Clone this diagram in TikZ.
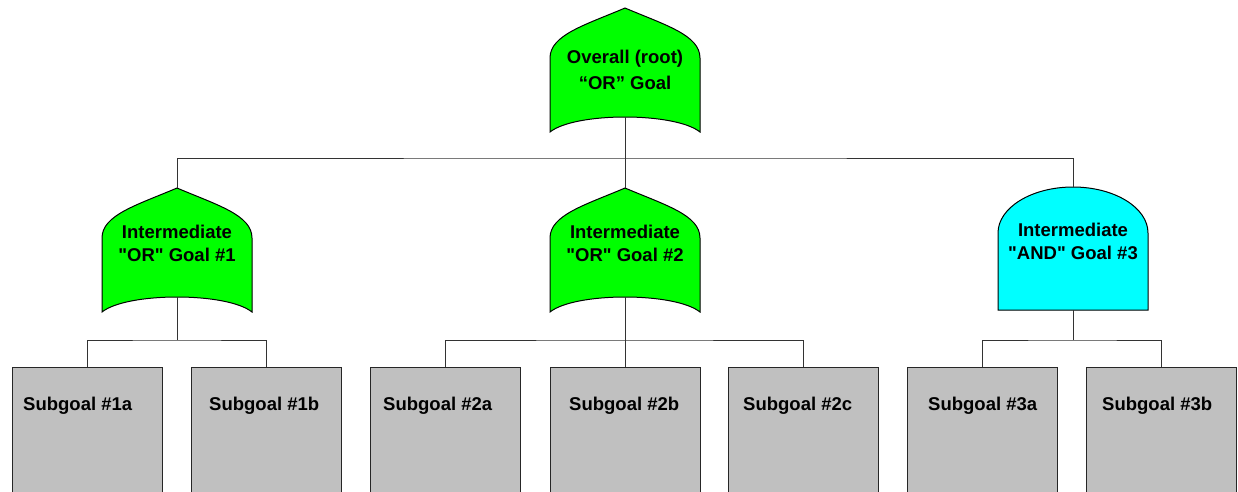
\documentclass[tikz,border=0pt]{standalone}
\usepackage{fontspec}
% a family without the TeX quote mapping, so straight quotes stay straight
\newfontfamily\labelfont{Liberation Sans}
\definecolor{orgreen}{RGB}{0,255,0}
\definecolor{andcyan}{RGB}{0,255,255}
\definecolor{leafgray}{RGB}{192,192,192}
\tikzset{
  wire/.style={draw=black!80, line width=1pt},
  outline/.style={draw=black, line width=1pt},
  gatetext/.style={font=\labelfont\bfseries\fontsize{18.5}{23.4}\selectfont, align=center, inner sep=0pt},
  leaftext/.style={font=\labelfont\bfseries\fontsize{18.5}{22}\selectfont, inner sep=0pt, anchor=base west},
  leafbox/.style={outline, draw=black!85, fill=leafgray, minimum width=150pt, minimum height=140pt, anchor=north, inner sep=0pt},
  % pointed-arch "OR" gate, origin at the apex
  orgoal/.pic={
    \path[outline, fill=orgreen] (-75,50) .. controls (-75,27) and (-40,17) .. (0,0)
      .. controls (40,17) and (75,27) .. (75,50) -- (75,124)
      .. controls (50,104) and (-50,104) .. (-75,124) -- cycle;
    \coordinate (-top) at (0,0);
    \coordinate (-bot) at (0,109);
  },
  % round-topped "AND" gate, origin at the top of the dome
  andgoal/.pic={
    \path[outline, fill=andcyan] (-75,123) -- (-75,46)
      .. controls (-75,20.6) and (-41.4,0) .. (0,0)
      .. controls (41.4,0) and (75,20.6) .. (75,46) -- (75,123) -- cycle;
    \coordinate (-top) at (0,0);
    \coordinate (-bot) at (0,123);
  }
}
\begin{document}
\begin{tikzpicture}[x=1pt,y=-1pt]
\useasboundingbox (0,0) rectangle (1238,491);
\clip (0,0) rectangle (1238,491);

% goal tree: root and intermediate gates
\pic (root) at (625,8) {orgoal};
\pic (g1) at (177,188) {orgoal};
\pic (g2) at (625,188) {orgoal};
\pic (g3) at (1073,187) {andgoal};

\node[gatetext] (troot) at (625,69.5) {Overall (root)\\[2.6pt]“OR” Goal};
\node[gatetext] (tg1) at (177,243.2) {Intermediate\\"OR" Goal \#1};
\node[gatetext] (tg2) at (625,243.2) {Intermediate\\"OR" Goal \#2};
\node[gatetext] (tg3) at (1073,241.5) {Intermediate\\"AND" Goal \#3};

% leaf subgoals
\node[leafbox] (s1a) at (87,367) {};
\node[leafbox] (s1b) at (266,367) {};
\node[leafbox] (s2a) at (445,367) {};
\node[leafbox] (s2b) at (625,367) {};
\node[leafbox] (s2c) at (803,367) {};
\node[leafbox] (s3a) at (982,367) {};
\node[leafbox] (s3b) at (1161,367) {};

\node[leaftext] (t1a) at (23,410) {Subgoal \#1a};
\node[leaftext] (t1b) at (209,410) {Subgoal \#1b};
\node[leaftext] (t2a) at (383,410) {Subgoal \#2a};
\node[leaftext] (t2b) at (569,410) {Subgoal \#2b};
\node[leaftext] (t2c) at (743,410) {Subgoal \#2c};
\node[leaftext] (t3a) at (928,410) {Subgoal \#3a};
\node[leaftext] (t3b) at (1102,410) {Subgoal \#3b};

% connectors
\draw[wire] (root-bot) -- (root-bot |- 0,158) coordinate (j0);
\draw[wire] (g1-top) |- (j0) -| (g3-top);
\draw[wire] (j0) -- (g2-top);

\draw[wire] (g1-bot) -- (g1-bot |- 0,340) coordinate (j1);
\draw[wire] (s1a.north) |- (j1) -| (s1b.north);

\draw[wire] (g2-bot) -- (g2-bot |- 0,340) coordinate (j2);
\draw[wire] (s2a.north) |- (j2) -| (s2c.north);
\draw[wire] (j2) -- (s2b.north);

\draw[wire] (g3-bot) -- (g3-bot |- 0,340) coordinate (j3);
\draw[wire] (s3a.north) |- (j3) -| (s3b.north);
\end{tikzpicture}
\end{document}
